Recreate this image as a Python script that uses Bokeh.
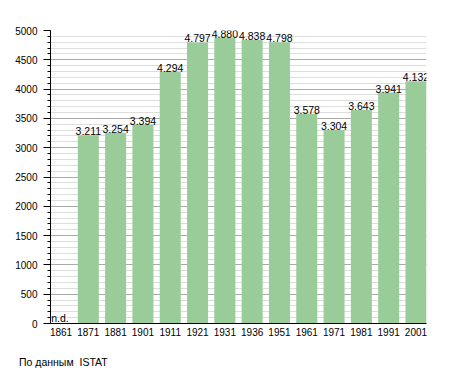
from bokeh.plotting import figure
from bokeh.models import (ColumnDataSource, SingleIntervalTicker, FixedTicker,
                          Range1d, Div)
from bokeh.layouts import column
from bokeh.core.properties import value
from bokeh.embed import file_html
from bokeh.resources import INLINE

# ---- data ----
years = ["1861", "1871", "1881", "1901", "1911", "1921", "1931",
         "1936", "1951", "1961", "1971", "1981", "1991", "2001"]
population = [None, 3211, 3254, 3394, 4294, 4797, 4880,
              4838, 4798, 3578, 3304, 3643, 3941, 4132]
missing_label = "n.d."
source_note = "По данным&nbsp; ISTAT"

FONT = "Liberation Sans"
BAR_COLOR = "#99cc99"
BAR_W = 0.77

idx = list(range(len(years)))
have = [i for i, v in enumerate(population) if v is not None]
miss = [i for i, v in enumerate(population) if v is None]

bars = ColumnDataSource(dict(
    x=[idx[i] for i in have],
    top=[population[i] for i in have],
    label=[f"{population[i]:,}".replace(",", ".") for i in have],
))
nd = ColumnDataSource(dict(x=[idx[i] for i in miss], y=[0 for _ in miss],
                           label=[missing_label for _ in miss]))

p = figure(width=447, height=345,
           x_range=Range1d(-BAR_W / 2, len(years) - 1 + BAR_W / 2),
           y_range=Range1d(0, 5000),
           output_backend="svg", toolbar_location=None,
           min_border_left=50, min_border_right=21,
           min_border_top=30, min_border_bottom=22)
p.outline_line_color = None
p.background_fill_color = "white"

p.vbar(x="x", top="top", width=BAR_W, source=bars,
       fill_color=BAR_COLOR, line_color=None)

p.text(x="x", y="top", text="label", source=bars,
       text_align="center", text_baseline="alphabetic", y_offset=-4,
       text_font=value(FONT), text_font_size="10.5px", text_color="black")
p.text(x="x", y="y", text="label", source=nd,
       text_align="center", text_baseline="alphabetic", y_offset=-6, x_offset=-1,
       text_font=value(FONT), text_font_size="10.5px", text_color="black")

# y axis
p.yaxis.ticker = SingleIntervalTicker(interval=500, num_minor_ticks=5)
p.yaxis.major_tick_out = 7
p.yaxis.major_tick_in = 0
p.yaxis.minor_tick_out = 3
p.yaxis.minor_tick_in = 0
p.yaxis.major_label_standoff = 6
p.yaxis.axis_line_color = "black"
p.yaxis.major_tick_line_color = "black"
p.yaxis.minor_tick_line_color = "black"
p.yaxis.major_label_text_font = FONT
p.yaxis.major_label_text_font_size = "10px"
p.yaxis.major_label_text_color = "black"

# x axis
p.xaxis.ticker = FixedTicker(ticks=idx)
p.xaxis.major_label_overrides = {i: y for i, y in zip(idx, years)}
p.xaxis.major_tick_out = 0
p.xaxis.major_tick_in = 0
p.xaxis.minor_tick_line_color = None
p.xaxis.major_label_standoff = 4
p.xaxis.axis_line_color = "black"
p.xaxis.major_label_text_font = FONT
p.xaxis.major_label_text_font_size = "10px"
p.xaxis.major_label_text_color = "black"

# grid
p.xgrid.visible = False
p.ygrid.grid_line_color = "#aaaaaa"
p.ygrid.minor_grid_line_color = "#dddddd"
p.ygrid.level = "underlay"

note = Div(text=source_note, width=447, height=26,
           styles={"padding-left": "14px", "padding-top": "6px",
                   "font-family": FONT, "font-size": "10.5px",
                   "line-height": "12px", "color": "black"})

layout = column(p, note, spacing=0)
open("out.html", "w").write(file_html(layout, INLINE))
